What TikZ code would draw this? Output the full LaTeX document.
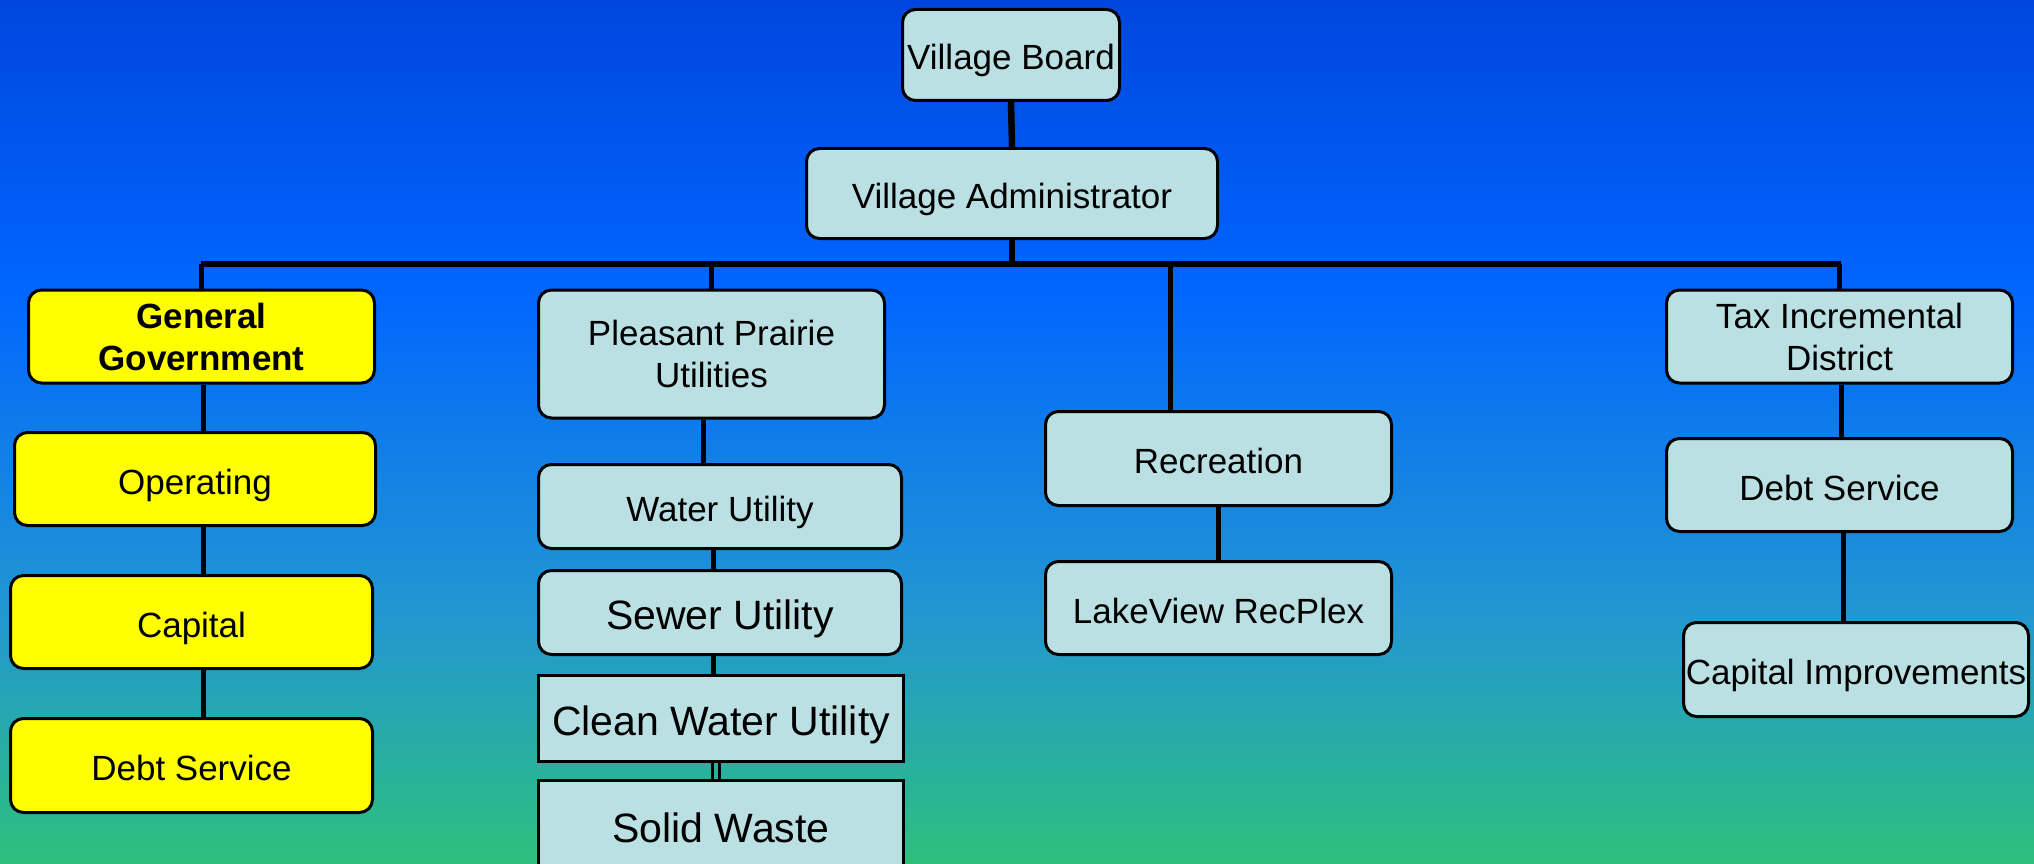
\documentclass[tikz,border=0pt]{standalone}
\usepackage{fontspec}
\setmainfont{Liberation Sans}
\definecolor{bgtop}{RGB}{0,70,222}
\definecolor{bgmid}{RGB}{0,102,255}
\definecolor{bglow}{RGB}{34,152,208}
\definecolor{bgbot}{RGB}{46,192,124}
\definecolor{boxfill}{RGB}{187,224,227}
\definecolor{ggfill}{RGB}{255,255,0}
\tikzset{
  box/.style={draw=black, line width=3pt, fill=boxfill, rounded corners=13pt,
    inner sep=0pt, align=center, text=black, font=\fontsize{35}{42}\selectfont},
  one/.style={text height=30pt, text depth=0pt},
  onebig/.style={text height=34.5pt, text depth=0pt, font=\fontsize{41}{48}\selectfont},
  sqbox/.style={box, rounded corners=0pt},
  ybox/.style={box, fill=ggfill},
  conn/.style={draw=black, line width=6.5pt},
  link/.style={draw=black, line width=5pt},
  thinlink/.style={draw=black, line width=3pt}
}
\begin{document}
\begin{tikzpicture}[x=1pt, y=-1pt]
\useasboundingbox (0,0) rectangle (2034,864);
\clip (0,0) rectangle (2034,864);
\begin{scope}[y=1pt]
  \fill[top color=bgtop, bottom color=bgmid] (0,0) rectangle (2034,-290);
  \fill[top color=bgmid, bottom color=bglow] (0,-290) rectangle (2034,-620);
  \fill[top color=bglow, bottom color=bgbot] (0,-620) rectangle (2034,-865);
\end{scope}

% coordinates of the bus
\coordinate (busL) at (201,264);
\coordinate (busR) at (1841,264);

% nodes
\node[box, one, minimum width=217pt, minimum height=91pt] (board) at (1011,55) {Village Board};
\node[box, one, minimum width=411pt, minimum height=90pt] (admin) at (1012,193.5) {Village Administrator};

\node[ybox, minimum width=346pt, minimum height=93pt, font=\fontsize{35}{42}\selectfont\bfseries] (gg) at (201.5,336.5) {General\\Government};
\node[ybox, one, minimum width=361pt, minimum height=93pt] (oper) at (195,479) {Operating};
\node[ybox, one, minimum width=362pt, minimum height=93pt] (capital) at (191.5,622) {Capital};
\node[ybox, one, minimum width=362pt, minimum height=94pt] (gdebt) at (191.5,765.5) {Debt Service};

\node[box, minimum width=346pt, minimum height=128pt] (pp) at (711.5,354) {Pleasant Prairie\\Utilities};
\node[box, one, minimum width=363pt, minimum height=84pt] (water) at (720,506.5) {Water Utility};
\node[box, onebig, minimum width=363pt, minimum height=84pt] (sewer) at (720,612.5) {Sewer Utility};
\node[sqbox, onebig, minimum width=365pt, minimum height=86pt] (clean) at (721,718.5) {Clean Water Utility};
\node[sqbox, onebig, minimum width=365pt, minimum height=90pt] (solid) at (721,825) {Solid Waste};

\node[box, one, minimum width=346pt, minimum height=94pt] (rec) at (1218.5,458.5) {Recreation};
\node[box, one, minimum width=346pt, minimum height=93pt] (lake) at (1218.5,608) {LakeView RecPlex};

\node[box, minimum width=346pt, minimum height=93pt] (tid) at (1839.5,336.5) {Tax Incremental\\District};
\node[box, one, minimum width=346pt, minimum height=93pt] (tdebt) at (1839.5,485) {Debt Service};
\node[box, one, minimum width=345pt, minimum height=94pt] (capimp) at (1856,669.5) {Capital Improvements};

% top connectors
\draw[conn] (board.south) -- (admin.north);
\draw[conn] (busL) -- (busR);
\draw[conn] (admin.south) -- (admin.south |- busL);
\draw[link] (gg.north) -- (gg.north |- busL);
\draw[link] (pp.north) -- (pp.north |- busL);
\draw[link] ([xshift=-48.5pt]rec.north) -- ([xshift=-48.5pt]rec.north |- busL);
\draw[link] (tid.north) -- (tid.north |- busR);

% General Government chain
\coordinate (gx) at (203,0);
\draw[link] (gx |- gg.south) -- (gx |- oper.north);
\draw[link] (gx |- oper.south) -- (gx |- capital.north);
\draw[link] (gx |- capital.south) -- (gx |- gdebt.north);

% Utilities chain
\draw[link] ([xshift=-8.5pt]pp.south) -- ([xshift=-8.5pt]pp.south |- water.north);
\draw[link] ([xshift=-7pt]water.south) -- ([xshift=-7pt]sewer.north);
\draw[link] ([xshift=-7pt]sewer.south) -- ([xshift=-8pt]clean.north);
\draw[thinlink] ([xshift=-9pt]clean.south) -- ([xshift=-9pt]solid.north);
\draw[thinlink] ([xshift=-2pt]clean.south) -- ([xshift=-2pt]solid.north);

% Recreation chain
\draw[link] (rec.south) -- (lake.north);

% TID chain
\draw[link] ([xshift=1.5pt]tid.south) -- ([xshift=1.5pt]tdebt.north);
\draw[link] ([xshift=3.5pt]tdebt.south) -- ([xshift=3.5pt]tdebt.south |- capimp.north);
\end{tikzpicture}
\end{document}
